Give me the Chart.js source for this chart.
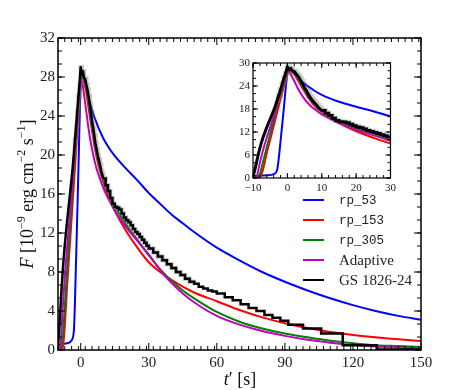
<!DOCTYPE html>
<html>
<head>
<meta charset="utf-8">
<script src="https://cdn.jsdelivr.net/npm/chart.js@4.4.1/dist/chart.umd.min.js"></script>
<style>
  html, body { margin: 0; padding: 0; background: #fff; }
  #wrap { position: relative; width: 468px; height: 390px; }
  #main { position: absolute; left: 0; top: 0; }
  #inset { position: absolute; left: 220px; top: 52px; }
</style>
</head>
<body>
<div id="wrap">
  <canvas id="main" width="468" height="390"></canvas>
  <canvas id="inset" width="180" height="150"></canvas>
</div>
<script>
// model light curves, all on the same time grid (s)
var modelTime = [-10, -9, -8, -7, -6, -5, -4, -3, -2, -1, 0, 0.5, 1, 2, 3, 4, 5, 6, 7, 8,
  10, 12, 15, 20, 25, 30, 35, 40, 45, 50, 60, 70, 80, 90, 100, 110, 120, 130, 140, 150];
var rp53 = [0.5, 0.55, 0.6, 0.65, 0.7, 0.75, 1.0, 2.0, 9.5, 18.5, 27.3, 28.3, 28.0, 27.2, 26.3, 25.4, 24.6, 23.9, 23.3, 22.7,
  21.7, 20.9, 19.9, 18.6, 17.4, 16.1, 15.0, 13.9, 13.0, 12.1, 10.5, 9.2, 8.0, 7.0, 6.1, 5.3, 4.6, 4.0, 3.5, 3.1];
var rp153 = [0, 0, 0.1, 2.5, 6.5, 10, 13.5, 17, 20.5, 24, 27.3, 28.2, 28.0, 27.0, 25.6, 24.0, 22.5, 21.0, 19.8, 18.8,
  17.2, 15.9, 14.3, 12.2, 10.5, 9.0, 8.0, 7.2, 6.5, 5.9, 5.0, 4.1, 3.35, 2.75, 2.25, 1.85, 1.55, 1.3, 1.1, 0.93];
var rp305 = [0, 0, 1.0, 4.5, 8, 11.5, 15, 18.5, 21.8, 25, 27.8, 28.4, 28.2, 27.4, 26.2, 24.6, 23.0, 21.5, 20.2, 19.1,
  17.6, 16.3, 14.8, 12.9, 11.3, 9.7, 8.3, 7.1, 6.1, 5.3, 3.9, 2.9, 2.2, 1.7, 1.3, 0.95, 0.7, 0.5, 0.4, 0.3];
var adaptive = [0, 0.3, 4, 7.5, 10.5, 13.2, 16, 19, 22, 25.2, 27.8, 27.7, 27.0, 25.3, 23.5, 21.9, 20.6, 19.5, 18.6, 17.9,
  16.6, 15.6, 14.3, 12.6, 11.2, 9.8, 8.2, 6.9, 5.8, 4.9, 3.5, 2.6, 1.95, 1.45, 1.05, 0.75, 0.5, 0.35, 0.25, 0.18];

// observed GS 1826-24 burst (bin start times, flux)
var obsTime = [-10, -9.5, -9, -8.5, -8, -7.5, -7, -6.5, -6, -5.5, -5, -4.5, -4, -3.5, -3, -2.5, -2, -1.5, -1, -0.5,
  0, 0.5, 1, 1.5, 2, 2.5, 3, 3.5, 4, 4.5, 5, 5.5, 6, 6.5, 7, 7.5, 8, 8.5, 9, 9.5,
  10, 11, 12, 13, 14, 15, 16, 17, 18, 19, 20, 21, 22, 23, 24, 25, 26, 27, 28, 29,
  30, 32, 34, 36, 38, 40, 42, 44, 46, 48, 50, 52, 54, 56, 58, 60,
  63.5, 67, 70.5, 74, 77.5, 81, 84.5, 88, 91.5, 98, 106, 115.5, 130.5, 150];
var obsFlux = [0.2, 2.0, 4.0, 6.0, 7.8, 9.4, 10.8, 12.0, 13.2, 14.3, 15.4, 16.5, 17.6, 18.8, 20.2, 21.6, 23.0, 24.5, 26.0, 27.3,
  29.0, 28.2, 28.6, 27.9, 27.8, 27.2, 26.7, 26.0, 25.2, 24.4, 23.5, 22.8, 22.0, 21.2, 20.6, 20.0, 19.5, 19.0, 18.4, 18.0,
  17.6, 16.9, 16.3, 15.6, 15.0, 14.7, 14.6, 14.4, 14.0, 13.6, 13.3, 13.1, 12.8, 12.4, 12.1, 11.9, 11.6, 11.3, 11.0, 10.7,
  10.4, 10.0, 9.6, 9.2, 8.8, 8.4, 8.0, 7.7, 7.3, 7.0, 6.8, 6.5, 6.3, 6.1, 6.0, 5.8,
  5.4, 5.1, 4.7, 4.3, 4.0, 3.6, 3.3, 3.0, 2.6, 2.2, 1.7, 0.5, 0.05, 0.05];

var seriesLabels = ['rp_53', 'rp_153', 'rp_305', 'Adaptive', 'GS 1826-24'];
var seriesColors = ['#0000ff', '#ff0000', '#008000', '#c000c0', '#000000'];

var mainXTicks = [0, 30, 60, 90, 120, 150];
var mainYTicks = [0, 4, 8, 12, 16, 20, 24, 28, 32];
var insetXTicks = [-10, 0, 10, 20, 30];
var insetYTicks = [0, 6, 12, 18, 24, 30];

// the dense early bins are drawn joined, the wider later bins as steps
var stepFrom = 10;

function points(xs, ys, lo, hi) {
  var out = [];
  for (var i = 0; i < xs.length; i++) {
    if (lo !== undefined && (xs[i] < lo || xs[i] > hi)) continue;
    out.push({ x: xs[i], y: ys[i] });
  }
  return out;
}

function buildSets(w, wObs) {
  var models = [rp53, rp153, rp305, adaptive];
  var sets = [];
  for (var i = 0; i < models.length; i++) {
    sets.push({
      label: seriesLabels[i],
      data: points(modelTime, models[i]),
      borderColor: seriesColors[i],
      borderWidth: w,
      cubicInterpolationMode: 'monotone',
      order: 4 - i
    });
  }
  sets.push({
    label: 'err',
    data: points(obsTime, obsFlux, -3, 50),
    borderColor: 'rgba(120,120,120,0.4)',
    borderWidth: wObs + 2,
    stepped: true,
    order: 0.5
  });
  sets.push({
    label: seriesLabels[4],
    data: points(obsTime, obsFlux, -10, stepFrom),
    borderColor: seriesColors[4],
    borderWidth: wObs,
    borderJoinStyle: 'round',
    order: 0
  });
  sets.push({
    label: seriesLabels[4],
    data: points(obsTime, obsFlux, stepFrom, 150),
    borderColor: seriesColors[4],
    borderWidth: wObs,
    stepped: true,
    order: 0
  });
  return sets;
}

function minus(v) {
  return v < 0 ? '\u2212' + Math.abs(v) : '' + v;
}

// frame on all four sides with inward major/minor ticks
var frameTicks = {
  id: 'frameTicks',
  afterDraw: function(chart, args, o) {
    var ctx = chart.ctx, a = chart.chartArea;
    var xs = chart.scales.x, ys = chart.scales.y;
    ctx.save();
    ctx.strokeStyle = '#000';
    ctx.lineWidth = 1;
    ctx.beginPath();
    function tx(v, len) {
      var p = xs.getPixelForValue(v);
      ctx.moveTo(p, a.bottom); ctx.lineTo(p, a.bottom - len);
      ctx.moveTo(p, a.top); ctx.lineTo(p, a.top + len);
    }
    function ty(v, len) {
      var p = ys.getPixelForValue(v);
      ctx.moveTo(a.left, p); ctx.lineTo(a.left + len, p);
      ctx.moveTo(a.right, p); ctx.lineTo(a.right - len, p);
    }
    var v;
    for (v = xs.min; v <= xs.max + 1e-6; v += o.xMinor) tx(v, o.minorLen);
    for (v = ys.min; v <= ys.max + 1e-6; v += o.yMinor) ty(v, o.minorLen);
    o.xMajor.forEach(function(t) { tx(t, o.majorLen); });
    o.yMajor.forEach(function(t) { ty(t, o.majorLen); });
    ctx.stroke();
    ctx.lineWidth = o.frameWidth;
    ctx.strokeRect(a.left, a.top, a.right - a.left, a.bottom - a.top);
    ctx.restore();
  }
};

function drawRuns(ctx, runs) {
  var total = 0;
  runs.forEach(function(r) { ctx.font = r.font; total += ctx.measureText(r.text).width; });
  var x = -total / 2;
  runs.forEach(function(r) {
    ctx.font = r.font;
    ctx.fillText(r.text, x, r.dy || 0);
    x += ctx.measureText(r.text).width;
  });
}

var serif = '"Liberation Serif", "DejaVu Serif", serif';
var mono = '"Liberation Mono", "DejaVu Sans Mono", monospace';

// axis titles and legend of the main panel
var decorations = {
  id: 'decorations',
  afterDraw: function(chart) {
    var ctx = chart.ctx;
    ctx.save();
    ctx.fillStyle = '#111';
    ctx.textBaseline = 'alphabetic';
    ctx.textAlign = 'left';

    ctx.save();
    ctx.translate(33, 194);
    ctx.rotate(-Math.PI / 2);
    drawRuns(ctx, [
      { text: 'F', font: 'italic 18px ' + serif },
      { text: ' [10', font: '18px ' + serif },
      { text: '\u22129', font: '12px ' + serif, dy: -8 },
      { text: ' erg cm', font: '18px ' + serif },
      { text: '\u22122', font: '12px ' + serif, dy: -8 },
      { text: ' s', font: '18px ' + serif },
      { text: '\u22121', font: '12px ' + serif, dy: -8 },
      { text: ']', font: '18px ' + serif }
    ]);
    ctx.restore();

    ctx.save();
    ctx.translate(240, 385);
    drawRuns(ctx, [
      { text: 't', font: 'italic 18px ' + serif },
      { text: '\u2032 [s]', font: '18px ' + serif }
    ]);
    ctx.restore();

    // legend
    ctx.textBaseline = 'middle';
    for (var i = 0; i < seriesLabels.length; i++) {
      var y = 200 + i * 20;
      ctx.strokeStyle = seriesColors[i];
      ctx.lineWidth = 2;
      ctx.beginPath();
      ctx.moveTo(303, y);
      ctx.lineTo(324, y);
      ctx.stroke();
      var isMono = seriesLabels[i].indexOf('rp_') === 0;
      ctx.font = isMono ? '12.5px ' + mono : '15px ' + serif;
      ctx.fillStyle = '#222';
      ctx.fillText(seriesLabels[i], 339, y + 1);
    }
    ctx.restore();
  }
};

function scaleOpts(min, max, tickList, fontSize, fitSize, isX) {
  return {
    type: 'linear',
    min: min,
    max: max,
    grid: { display: false, drawTicks: false },
    border: { display: false },
    afterBuildTicks: function(s) { s.ticks = tickList.map(function(v) { return { value: v }; }); },
    afterFit: function(s) { if (isX) s.height = fitSize; else s.width = fitSize; },
    ticks: {
      autoSkip: false,
      maxRotation: 0,
      padding: isX ? 4 : 3,
      color: '#222',
      font: { family: serif, size: fontSize },
      callback: function(v) { return minus(v); }
    }
  };
}

var mainChart = new Chart(document.getElementById('main'), {
  type: 'line',
  data: { datasets: buildSets(2, 2.5) },
  options: {
    responsive: false,
    animation: false,
    layout: { padding: { top: 38, right: 47, left: 0, bottom: 0 } },
    elements: { point: { radius: 0 } },
    plugins: {
      legend: { display: false },
      tooltip: { enabled: false },
      frameTicks: { xMajor: mainXTicks, yMajor: mainYTicks, xMinor: 3, yMinor: 4 / 3, majorLen: 7, minorLen: 4, frameWidth: 1.5 }
    },
    scales: {
      x: scaleOpts(-10, 150, mainXTicks, 15, 40, true),
      y: scaleOpts(0, 32, mainYTicks, 15, 58, false)
    }
  },
  plugins: [frameTicks, decorations]
});

var insetChart = new Chart(document.getElementById('inset'), {
  type: 'line',
  data: { datasets: buildSets(2, 3) },
  options: {
    responsive: false,
    animation: false,
    layout: { padding: { top: 11, right: 7, left: 0, bottom: 0 } },
    elements: { point: { radius: 0 } },
    plugins: {
      legend: { display: false },
      tooltip: { enabled: false },
      frameTicks: { xMajor: insetXTicks, yMajor: insetYTicks, xMinor: 2, yMinor: 2, majorLen: 5, minorLen: 3, frameWidth: 1.2 }
    },
    scales: {
      x: scaleOpts(-10, 30, insetXTicks, 11, 24, true),
      y: scaleOpts(0, 30, insetYTicks, 11, 33, false)
    }
  },
  plugins: [frameTicks]
});
</script>
</body>
</html>
